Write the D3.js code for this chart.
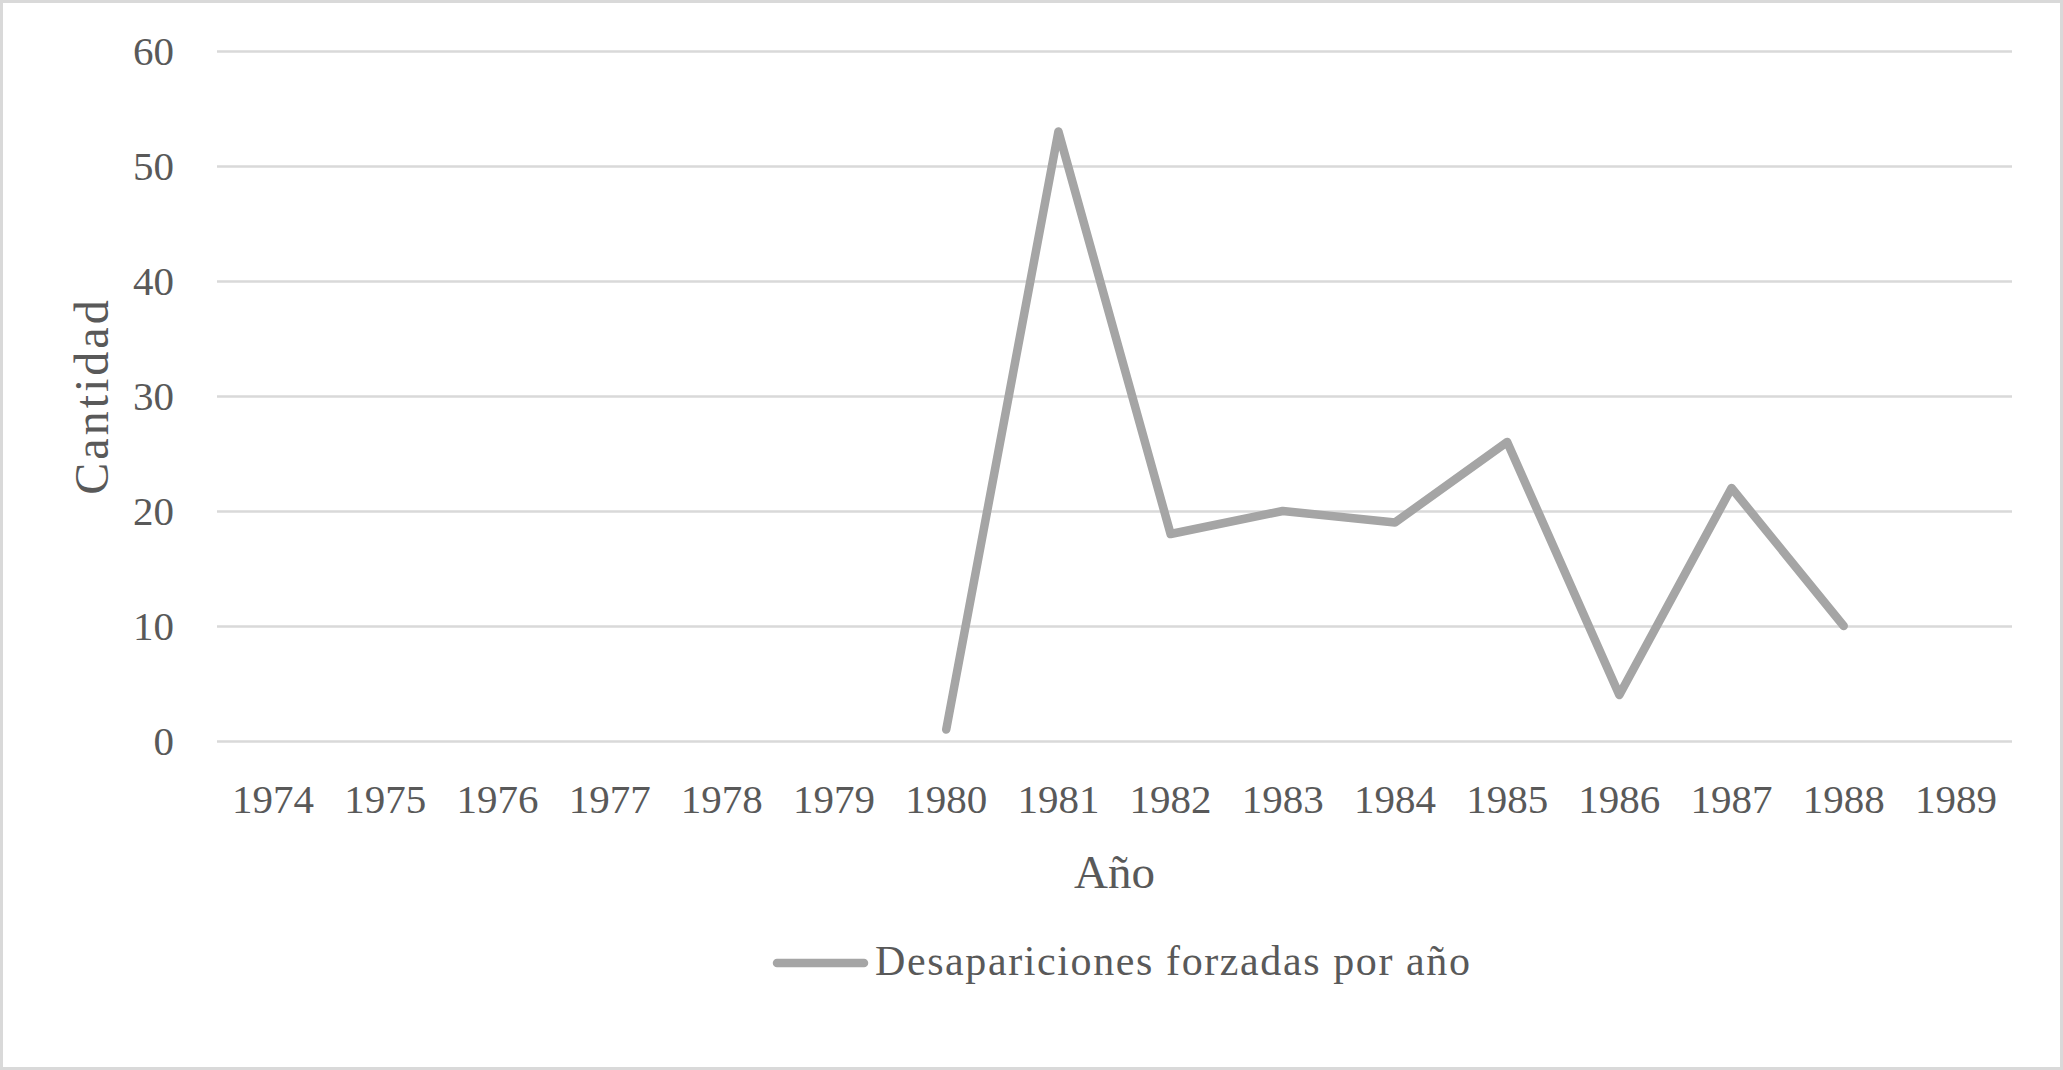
<!DOCTYPE html>
<html>
<head>
<meta charset="utf-8">
<script src="https://cdn.jsdelivr.net/npm/d3@7"></script>
<style>
  body { margin: 0; background: #fff; }
  text { font-family: "Liberation Serif", "DejaVu Serif", serif; fill: #595959; }
</style>
</head>
<body>
<script>
// data
const years = ["1974", "1975", "1976", "1977", "1978", "1979", "1980", "1981",
  "1982", "1983", "1984", "1985", "1986", "1987", "1988", "1989"];
const desapariciones = [null, null, null, null, null, null, 1, 53,
  18, 20, 19, 26, 4, 22, 10, null];
const yTicks = [0, 10, 20, 30, 40, 50, 60];
const seriesName = "Desapariciones forzadas por año";
const xTitle = "Año";
const yTitle = "Cantidad";

const w = 2063;
const h = 1070;
const plotLeft = 217, plotRight = 2012, plotTop = 51, plotBottom = 741;

const svg = d3
  .select("body")
  .append("svg")
  .attr("width", w)
  .attr("height", h);

// chart border
svg
  .append("rect")
  .attr("x", 1.5)
  .attr("y", 1.5)
  .attr("width", w - 3)
  .attr("height", h - 3)
  .attr("fill", "#fff")
  .attr("stroke", "#d9d9d9")
  .attr("stroke-width", 3);

const xScale = d3.scaleBand().domain(years).range([plotLeft, plotRight]).padding(0);
const yScale = d3.scaleLinear().domain([0, 60]).range([plotBottom, plotTop]);
const xc = d => xScale(d) + xScale.bandwidth() / 2;

// gridlines + y labels
const yAxis = d3
  .axisLeft(yScale)
  .tickValues(yTicks)
  .tickSize(-(plotRight - plotLeft))
  .tickPadding(43);

svg
  .append("g")
  .attr("transform", "translate(" + plotLeft + ",0)")
  .call(yAxis)
  .call(g => g.select(".domain").remove())
  .call(g => g.selectAll("line").attr("stroke", "#d9d9d9").attr("stroke-width", 2.5))
  .call(g =>
    g.selectAll("text")
      .style("font-size", "41px")
      .attr("font-family", null)
      .attr("fill", "#595959")
      .attr("dy", "0.34em")
  );

// x labels
const xAxis = d3.axisBottom(xScale).tickSize(0).tickPadding(0);
svg
  .append("g")
  .attr("transform", "translate(0," + plotBottom + ")")
  .attr("font-family", null)
  .call(xAxis)
  .call(g => g.select(".domain").remove())
  .call(g =>
    g.selectAll("text")
      .style("font-size", "41px")
      .attr("fill", "#595959")
      .attr("y", 72)
      .attr("dy", 0)
  );

// axis titles
svg
  .append("text")
  .attr("x", (plotLeft + plotRight) / 2)
  .attr("y", 888)
  .attr("text-anchor", "middle")
  .style("font-size", "47px")
  .text(xTitle);

svg
  .append("text")
  .attr("transform", "translate(108," + (plotTop + plotBottom) / 2 + ") rotate(-90)")
  .attr("text-anchor", "middle")
  .style("font-size", "48px")
  .style("letter-spacing", "3px")
  .text(yTitle);

// the series line
const line = d3
  .line()
  .defined(d => d[1] !== null)
  .x(d => xc(d[0]))
  .y(d => yScale(d[1]));

svg
  .append("path")
  .datum(years.map((y, i) => [y, desapariciones[i]]))
  .attr("fill", "none")
  .attr("stroke", "#a5a5a5")
  .attr("stroke-width", 8.5)
  .attr("stroke-linejoin", "round")
  .attr("stroke-linecap", "round")
  .attr("d", line);

// legend
const legend = svg.append("g").attr("transform", "translate(773,963)");
legend
  .append("line")
  .attr("x1", 4)
  .attr("x2", 91)
  .attr("stroke", "#a5a5a5")
  .attr("stroke-width", 8.5)
  .attr("stroke-linecap", "round");
legend
  .append("text")
  .attr("x", 102)
  .attr("y", 12)
  .style("font-size", "42px")
  .style("letter-spacing", "1.6px")
  .text(seriesName);
</script>
</body>
</html>
